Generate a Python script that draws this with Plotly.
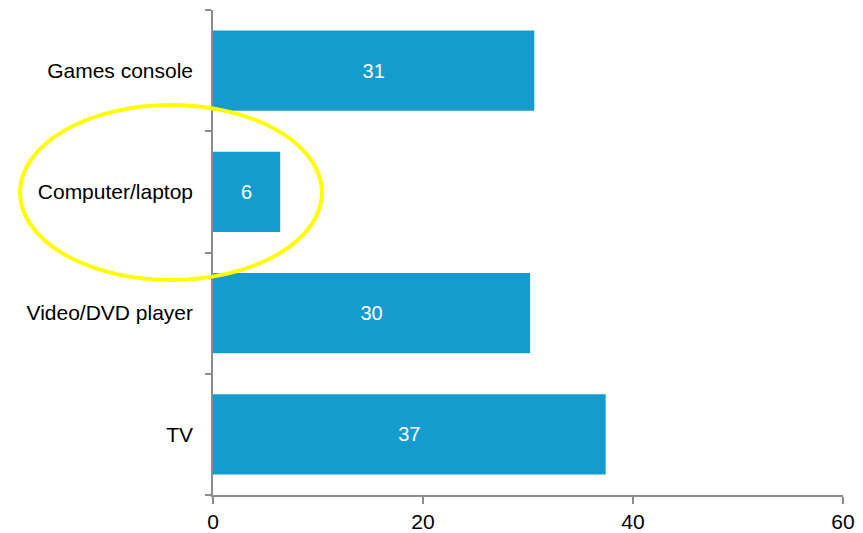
import plotly.graph_objects as go

categories = ["TV", "Video/DVD player", "Computer/laptop", "Games console"]
values = [37.4, 30.2, 6.4, 30.6]
labels = ["37", "30", "6", "31"]
x_ticks = [0, 20, 40, 60]

BAR = "#169BCE"
AXIS = "#8C8C8C"
FONT = "Liberation Sans, Arial, sans-serif"

fig = go.Figure(
    go.Bar(
        y=categories,
        x=values,
        orientation="h",
        text=labels,
        textposition="inside",
        insidetextanchor="middle",
        textfont=dict(color="white", size=20, family=FONT),
        marker=dict(color=BAR, line=dict(width=0)),
        width=0.66,
        hoverinfo="skip",
    )
)

W, H = 863, 533
L, R, T, B = 213, 20, 10, 38
pw, ph = W - L - R, H - T - B


def px_x(p):
    return (p - L) / pw


def px_y(p):
    return (H - B - p) / ph


fig.add_shape(
    type="circle",
    xref="paper",
    yref="paper",
    x0=px_x(20),
    x1=px_x(322),
    y0=px_y(280),
    y1=px_y(105),
    line=dict(color="#FFFF00", width=4),
    layer="above",
)

fig.update_layout(
    width=W,
    height=H,
    margin=dict(l=L, r=R, t=T, b=B, autoexpand=False),
    paper_bgcolor="white",
    plot_bgcolor="white",
    showlegend=False,
    font=dict(family=FONT, size=21, color="black"),
    xaxis=dict(
        range=[0, 60],
        tickvals=x_ticks,
        ticks="outside",
        ticklen=7,
        tickcolor=AXIS,
        tickwidth=1.5,
        showline=True,
        linecolor=AXIS,
        linewidth=1.5,
        showgrid=False,
        zeroline=False,
        automargin=False,
        tickfont=dict(size=21, color="black"),
        fixedrange=True,
    ),
    yaxis=dict(
        categoryorder="array",
        categoryarray=categories,
        range=[-0.5, 3.5],
        tickson="boundaries",
        ticks="outside",
        ticklen=6,
        tickcolor=AXIS,
        tickwidth=1.5,
        showline=True,
        linecolor=AXIS,
        linewidth=1.5,
        showgrid=False,
        zeroline=False,
        automargin=False,
        tickfont=dict(size=21, color="black"),
        ticklabelstandoff=14,
        fixedrange=True,
    ),
)

post = (
    "var s=document.documentElement.style;s.margin='0';s.padding='0';s.overflow='hidden';"
    "var b=document.body.style;b.margin='0';b.padding='0';b.overflow='hidden';"
    "var d=document.getElementById('{plot_id}');var p=d.parentElement;"
    "p.style.position='absolute';p.style.left='0';p.style.top='0';"
)

fig.write_html("out.html", config={"displayModeBar": False}, post_script=post)
